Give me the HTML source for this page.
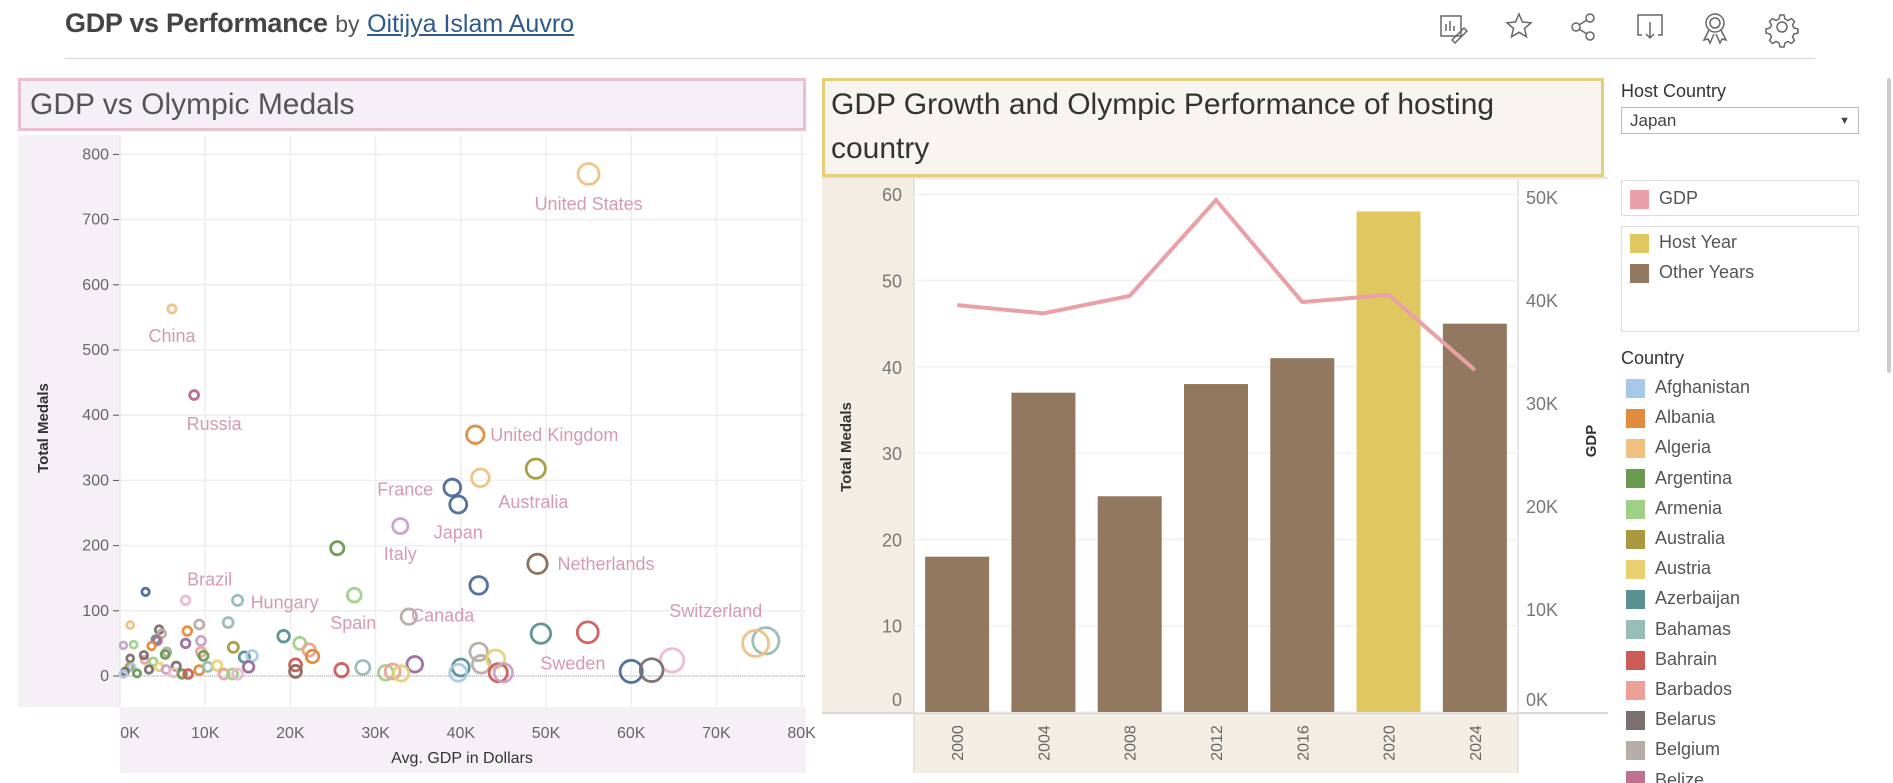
<!DOCTYPE html>
<html><head><meta charset="utf-8"><style>
body{margin:0;width:1893px;height:783px;overflow:hidden;background:#fff;font-family:"Liberation Sans",sans-serif;position:relative}
.abs{position:absolute}
.leg{position:absolute;left:1621px;font-size:17px;color:#555}
.sw{display:inline-block;width:19px;height:19px;vertical-align:middle;margin-right:10px}
</style></head><body>
<div class="abs" style="left:65px;top:8px;font-size:27px;color:#444;white-space:nowrap"><b style="letter-spacing:-0.3px">GDP vs Performance</b> <span style="font-size:23px;color:#555">by</span> <a style="font-size:25px;color:#2e5a8c;text-decoration:underline">Oitijya Islam Auvro</a></div>
<div class="abs" style="left:65px;top:58px;width:1750px;height:1px;background:#d8d8d8"></div>
<svg class="abs" style="left:0;top:0" width="1893" height="60">
<g fill="none" stroke="#666" stroke-width="1.5">
<g><rect x="1441" y="16" width="20" height="20"/><path d="M1446 31v-7M1450 31v-10M1454 31v-5M1452 40l12-12 3 3-12 12z"/></g>
<path d="M1519 14l3.5 8 8.5 .8-6.5 5.6 2 8.4-7.5-4.5-7.5 4.5 2-8.4-6.5-5.6 8.5-.8z"/>
<g><circle cx="1576" cy="27" r="4"/><circle cx="1590" cy="18" r="4"/><circle cx="1590" cy="36" r="4"/><path d="M1579 25l8-5M1579 29l8 5"/></g>
<g><path d="M1642 35h-4v-20h24v20h-4M1650 22v16M1646 34l4 4 4-4"/></g>
<g><circle cx="1715" cy="23" r="9"/><circle cx="1715" cy="23" r="5"/><path d="M1709 30l-5 10 4-1 2 4 4-9M1721 30l5 10-4-1-2 4-4-9"/></g>
<g><circle cx="1782" cy="27" r="5"/><path d="M1780 15h4l1 4 3 1.5 3.5-2 3 3-2 3.5 1.5 3 4 1v4l-4 1-1.5 3 2 3.5-3 3-3.5-2-3 1.5-1 4h-4l-1-4-3-1.5-3.5 2-3-3 2-3.5-1.5-3-4-1v-4l4-1 1.5-3-2-3.5 3-3 3.5 2 3-1.5z"/></g>
</g></svg>

<div class="abs" style="left:18px;top:78px;height:47px;border:3px solid #ebbfcf;background:#f5f0f6;font-size:30px;color:#555;line-height:47px;padding-left:9px;width:773px;white-space:nowrap">GDP vs Olympic Medals</div>
<div class="abs" style="left:822px;top:78px;width:770px;height:91px;border:3px solid #e6cf7a;background:#f8f5f0;font-size:30px;color:#333;line-height:44px;padding:2px 0 0 6px;white-space:nowrap">GDP Growth and Olympic Performance of hosting<br>country</div>

<svg id="charts" class="abs" style="left:0;top:0" width="1893" height="783" font-family="Liberation Sans, sans-serif"></svg>

<div class="leg" style="top:81px;color:#333;font-size:18px">Host Country</div>
<div class="abs" style="left:1621px;top:107px;height:27px;border:1px solid #bbb;font-size:17px;color:#444;line-height:26px;box-sizing:border-box;width:238px;padding-left:8px">Japan<span style="position:absolute;right:8px;font-size:11px">▼</span></div>
<div class="abs" style="left:1621px;top:180px;width:236px;height:34px;border:1px solid #ddd"><div style="position:absolute;left:8px;top:7px;font-size:18px;color:#555"><span class="sw" style="background:#eaa0a8"></span>GDP</div></div>
<div class="abs" style="left:1621px;top:226px;width:236px;height:104px;border:1px solid #ddd">
<div style="position:absolute;left:8px;top:5px;font-size:18px;color:#555"><span class="sw" style="background:#e0c860"></span>Host Year</div>
<div style="position:absolute;left:8px;top:35px;font-size:18px;color:#555"><span class="sw" style="background:#937860"></span>Other Years</div></div>
<div class="leg" style="top:348px;color:#333;font-size:18px">Country</div>
<div id="clist" class="abs" style="left:1621px;top:377px;height:406px;overflow:hidden;width:230px"></div>
<div class="abs" style="left:1887px;top:78px;width:4px;height:295px;background:#ccc;border-radius:2px"></div>

<script>
const NS="http://www.w3.org/2000/svg";
const svg=document.getElementById('charts');
function mk(t,a,p){const e=document.createElementNS(NS,t);for(const k in a)e.setAttribute(k,a[k]);(p||svg).appendChild(e);return e;}

// ---- Scatter data ----
const palette=["#a8c8e8","#e08c3c","#f0c080","#6a9a50","#a0d088","#a89a40","#e8d070","#5a9090","#98bcb8","#cc5c58","#eca098","#7a6e6e","#b8aca8","#b86890","#4a6a9a","#c8a0c8","#8a6a58","#f0b8c8","#9a6a9a"];
const gdpK=[55.0,6.1,8.7,41.7,42.3,48.8,39.0,39.7,32.9,25.5,49.0,42.1,27.5,33.9,49.4,54.9,64.8,75.8,74.6,60.0,62.4,42.1,42.4,44.1,40.0,39.7,44.4,45.0,34.6,28.5,26.0,31.2,32.0,33.0,19.2,21.1,22.2,22.6,20.6,20.6,7.7,13.8,3.0,
1.2,0.4,1.6,4.6,4.9,4.2,4.4,3.7,2.9,2.8,1.2,3.9,1.1,1.4,0.6,0.4,2.0,5.5,5.3,4.6,3.4,5.4,6.6,6.3,7.7,7.9,9.3,9.5,9.5,9.8,9.3,10.3,11.4,12.2,13.2,7.3,8.0,12.7,13.3,14.6,15.5,15.1,13.8];
const medals=[770,563,431,370,304,318,289,263,230,196,172,139,124,91,65,67,24,54,50,7,9,37,18,26,13,5,5,5,18,13,9,5,7,4,61,50,40,30,17,7,116,116,129,
78,47,48,71,65,56,54,46,25,32,27,22,14,13,7,3,4,37,33,14,10,10,15,5,50,69,79,54,37,31,9,14,16,3,3,3,3,82,44,29,31,14,3];
const colorIdx=[2,2,13,1,2,5,14,14,15,3,16,14,4,12,7,9,17,8,2,14,11,12,12,6,7,0,9,15,18,8,9,4,10,6,7,4,10,1,9,16,17,8,14,
2,15,4,11,12,7,13,1,10,11,11,4,5,0,11,0,3,12,3,6,11,15,11,17,18,1,12,15,10,3,1,8,6,10,4,3,9,8,5,7,0,18,17];
const labelText={0:"United States",1:"China",2:"Russia",3:"United Kingdom",4:"Australia",6:"France",7:"Japan",8:"Italy",10:"Netherlands",40:"Brazil",41:"Hungary",12:"Spain",11:"Canada",14:"Sweden",17:"Switzerland"};
const labelOffset={0:[0,30,"middle"],1:[0,27,"middle"],2:[20,29,"middle"],3:[15,0,"start"],4:[18,24,"start"],6:[-19,2,"end"],7:[0,28,"middle"],8:[0,28,"middle"],10:[20,0,"start"],40:[24,-21,"middle"],41:[13,2,"start"],12:[-1,28,"middle"],11:[-36,30,"middle"],14:[32,30,"middle"],17:[-50,-30,"middle"]};
const xTicks=[0,10,20,30,40,50,60,70,80];
const yTicks=[0,100,200,300,400,500,600,700,800];

const SX0=120,SX1=806,SY0=135,SY1=707;
const sx=v=>120+v*8.52;
const sy=v=>676-v*0.652;
mk('rect',{x:18,y:SY0,width:102,height:SY1-SY0,fill:'#f5f0f6'});
mk('rect',{x:120,y:SY1,width:686,height:66,fill:'#f5f0f6'});
mk('rect',{x:120,y:SY0,width:686,height:SY1-SY0,fill:'#fff'});
xTicks.forEach(t=>{const g=mk('line',{x1:sx(t),x2:sx(t),y1:SY0,y2:SY1,stroke:'#eeeeee','stroke-width':1.5});

const tx=mk('text',{x:sx(t)+(t===0?10:0),y:738,'font-size':16,fill:'#666','text-anchor':'middle'});tx.textContent=t+'K';
});
yTicks.forEach(t=>{const g=mk('line',{x1:SX0,x2:SX1,y1:sy(t),y2:sy(t),stroke:'#eeeeee','stroke-width':1.5});

mk('line',{x1:113,x2:119,y1:sy(t),y2:sy(t),stroke:'#555','stroke-width':1});
const tx=mk('text',{x:109,y:sy(t)+5,'font-size':16,fill:'#666','text-anchor':'end'});tx.textContent=t;
});
mk('line',{x1:SX0,x2:SX1,y1:sy(0),y2:sy(0),stroke:'#aaa','stroke-width':1,'stroke-dasharray':'1 1'});
mk('line',{x1:SX0,x2:SX0,y1:SY0,y2:SY1,stroke:'#ddd','stroke-width':1,'stroke-dasharray':'1 1'});
let t1=mk('text',{x:48,y:428,'font-size':15,'font-weight':'bold',fill:'#333','text-anchor':'middle',transform:'rotate(-90 48 428)'});t1.textContent='Total Medals';

let t2=mk('text',{x:462,y:763,'font-size':16,fill:'#333','text-anchor':'middle'});t2.textContent='Avg. GDP in Dollars';

gdpK.forEach((g,i)=>{const r=3.3+g*0.13;
const c=mk('circle',{cx:sx(g),cy:sy(medals[i]),r:r,fill:'none',stroke:palette[colorIdx[i]],'stroke-width':2.8,opacity:0.95});
});
Object.keys(labelText).forEach(k=>{const i=+k,o=labelOffset[k];
const tx=mk('text',{x:sx(gdpK[i])+o[0],y:sy(medals[i])+o[1]+6,'font-size':18,fill:'#d69ab2','text-anchor':o[2]});tx.textContent=labelText[k];
});

// ---- Host chart data ----
const years=["2000","2004","2008","2012","2016","2020","2024"];
const totalMedals=[18,37,25,38,41,58,45];
const gdpSeries=[39.5,38.7,40.4,49.7,39.8,40.5,33.2];
const hostYear="2020";
const medalTicks=[0,10,20,30,40,50,60];
const gdpTicks=[0,10,20,30,40,50];

const BX0=914,BX1=1518,BY0=179,BY1=712,band=(BX1-BX0)/years.length;
const bx=i=>BX0+band*(i+0.5);
const by=v=>BY1-v*8.63;
const gy=v=>BY1-v*10.3;
mk('rect',{x:822,y:BY0,width:92,height:BY1-BY0,fill:'#f3ede3'});
mk('rect',{x:914,y:BY1,width:604,height:61,fill:'#f3ede3'});
mk('line',{x1:822,x2:1608,y1:BY0-1,y2:BY0-1,stroke:'#ddd','stroke-width':1.5});
mk('line',{x1:822,x2:1608,y1:BY1+1,y2:BY1+1,stroke:'#ccc','stroke-width':1.5});
mk('line',{x1:BX0,x2:BX0,y1:BY0,y2:773,stroke:'#ddd','stroke-width':1.5});
mk('line',{x1:BX1,x2:BX1,y1:BY0,y2:773,stroke:'#ddd','stroke-width':1.5});
medalTicks.forEach(t=>{const g=mk('line',{x1:BX0,x2:BX1,y1:by(t),y2:by(t),stroke:'#f0f0f0','stroke-width':1.5});

const tx=mk('text',{x:902,y:(t===0?by(t)-6:by(t)+7),'font-size':18,fill:'#777','text-anchor':'end'});tx.textContent=t;
});
gdpTicks.forEach(t=>{const tx=mk('text',{x:1526,y:(t===0?gy(t)-6:gy(t)+7),'font-size':18,fill:'#777'});tx.textContent=t+'K';
});
years.forEach((y,i)=>{const r=mk('rect',{x:bx(i)-32,y:by(totalMedals[i]),width:64,height:BY1-by(totalMedals[i]),fill:y===hostYear?'#e0c860':'#937860'});

const tx=mk('text',{x:0,y:0,'font-size':16,fill:'#666','text-anchor':'middle',transform:`translate(${bx(i)+6},743) rotate(-90)`});tx.textContent=y;
});
const pts=gdpSeries.map((v,i)=>bx(i)+','+gy(v)).join(' ');
const pl=mk('polyline',{points:pts,fill:'none',stroke:'#eaa0a8','stroke-width':4,'stroke-linejoin':'miter'});

let t3=mk('text',{x:851,y:447,'font-size':15,'font-weight':'bold',fill:'#333','text-anchor':'middle',transform:'rotate(-90 851 447)'});t3.textContent='Total Medals';

let t4=mk('text',{x:1596,y:441,'font-size':15,'font-weight':'bold',fill:'#333','text-anchor':'middle',transform:'rotate(-90 1596 441)'});t4.textContent='GDP';


// country legend
const countries=["Afghanistan","Albania","Algeria","Argentina","Armenia","Australia","Austria","Azerbaijan","Bahamas","Bahrain","Barbados","Belarus","Belgium","Belize"];
const cColors=["#a8c8e8","#e08c3c","#f0c080","#6a9a50","#a0d088","#a89a40","#e8d070","#5a9090","#98bcb8","#cc5c58","#eca098","#7a6e6e","#b8aca8","#c07090"];
const cl=document.getElementById('clist');
countries.forEach((c,i)=>{const d=document.createElement('div');


d.style.cssText=`position:absolute;left:5px;top:${i*30.2}px;font-size:18px;color:#555;white-space:nowrap`;
d.innerHTML=`<span class="sw" style="background:${cColors[i]}"></span>${c}`;cl.appendChild(d);});
</script>
</body></html>
